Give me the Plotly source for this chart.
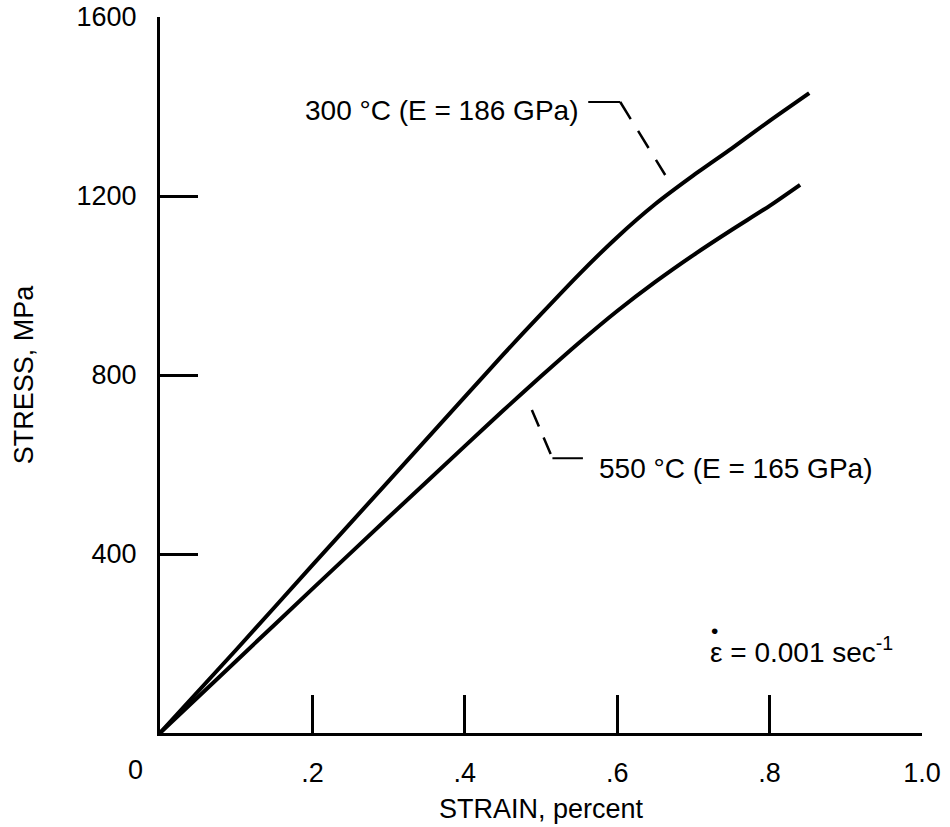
import plotly.graph_objects as go

# Data
strain_300 = [0.0, 0.1, 0.2, 0.3, 0.4, 0.45, 0.5, 0.55, 0.6, 0.65, 0.7, 0.75, 0.8, 0.852]
stress_300 = [0, 186, 375, 563, 751, 845, 936, 1025, 1108, 1182, 1246, 1306, 1368, 1430]
strain_550 = [0.0, 0.1, 0.2, 0.3, 0.4, 0.45, 0.5, 0.55, 0.6, 0.65, 0.7, 0.75, 0.8, 0.84]
stress_550 = [0, 161, 322, 482, 641, 720, 797, 872, 943, 1008, 1068, 1124, 1178, 1225]

x_tickvals = [0.2, 0.4, 0.6, 0.8, 1.0]
x_ticktext = [".2", ".4", ".6", ".8", "1.0"]
y_tickvals = [400, 800, 1200, 1600]
y_ticktext = ["400", "800", "1200", "1600"]

label_300 = "300 °C (E = 186 GPa)"
label_550 = "550 °C (E = 165 GPa)"
rate_label = "ε = 0.001 sec<sup>-1</sup>"

FONT = "Liberation Sans, Arial, sans-serif"

fig = go.Figure()
fig.add_trace(go.Scatter(x=strain_300, y=stress_300, mode="lines",
                         line=dict(color="black", width=4, shape="spline", smoothing=0.6),
                         showlegend=False))
fig.add_trace(go.Scatter(x=strain_550, y=stress_550, mode="lines",
                         line=dict(color="black", width=4, shape="spline", smoothing=0.6),
                         showlegend=False))

# Leader lines
fig.add_shape(type="line", x0=0.562, y0=1410, x1=0.604, y1=1410,
              line=dict(color="black", width=2))
fig.add_shape(type="line", x0=0.604, y0=1410, x1=0.663, y1=1247,
              line=dict(color="black", width=2.5, dash="20px,14px"))
fig.add_shape(type="line", x0=0.488, y0=722, x1=0.515, y1=614,
              line=dict(color="black", width=2.5, dash="18px,12px"))
fig.add_shape(type="line", x0=0.515, y0=614, x1=0.555, y1=614,
              line=dict(color="black", width=2))

fig.add_annotation(x=0.188, y=1392, text=label_300, showarrow=False,
                   xanchor="left", yanchor="middle", font=dict(size=28, color="black", family=FONT))
fig.add_annotation(x=0.574, y=592, text=label_550, showarrow=False,
                   xanchor="left", yanchor="middle", font=dict(size=28, color="black", family=FONT))
fig.add_annotation(x=0.719, y=185, text=rate_label, showarrow=False,
                   xanchor="left", yanchor="middle", font=dict(size=28, color="black", family=FONT))
# dot over epsilon
fig.add_annotation(x=0.7275, y=230, text="•", showarrow=False,
                   xanchor="center", yanchor="middle", font=dict(size=21, color="black", family=FONT))
# corner zero label
fig.add_annotation(xref="paper", yref="paper", x=-0.0328, y=-0.0517, text="0",
                   showarrow=False, xanchor="center", yanchor="middle",
                   font=dict(size=27, color="black", family=FONT))

fig.update_layout(
    width=950, height=827,
    margin=dict(l=160, r=28, t=17, b=94),
    paper_bgcolor="white", plot_bgcolor="white",
    font=dict(family=FONT, size=27, color="black"),
    xaxis=dict(range=[0, 1.0], showgrid=False, zeroline=False, automargin=False,
               showline=True, linecolor="black", linewidth=3,
               ticks="inside", ticklen=38, tickwidth=2.5, tickcolor="black",
               tickvals=x_tickvals, ticktext=x_ticktext, ticklabelstandoff=14,
               tickfont=dict(size=27),
               title=dict(text="STRAIN, percent", standoff=12, font=dict(size=27))),
    yaxis=dict(range=[0, 1600], showgrid=False, zeroline=False, automargin=False,
               showline=True, linecolor="black", linewidth=3,
               ticks="inside", ticklen=38, tickwidth=2.5, tickcolor="black",
               tickvals=y_tickvals, ticktext=y_ticktext, ticklabelstandoff=15,
               tickfont=dict(size=27),
               title=dict(text="STRESS, MPa", standoff=36, font=dict(size=27))),
)

fig.write_html("out.html")
